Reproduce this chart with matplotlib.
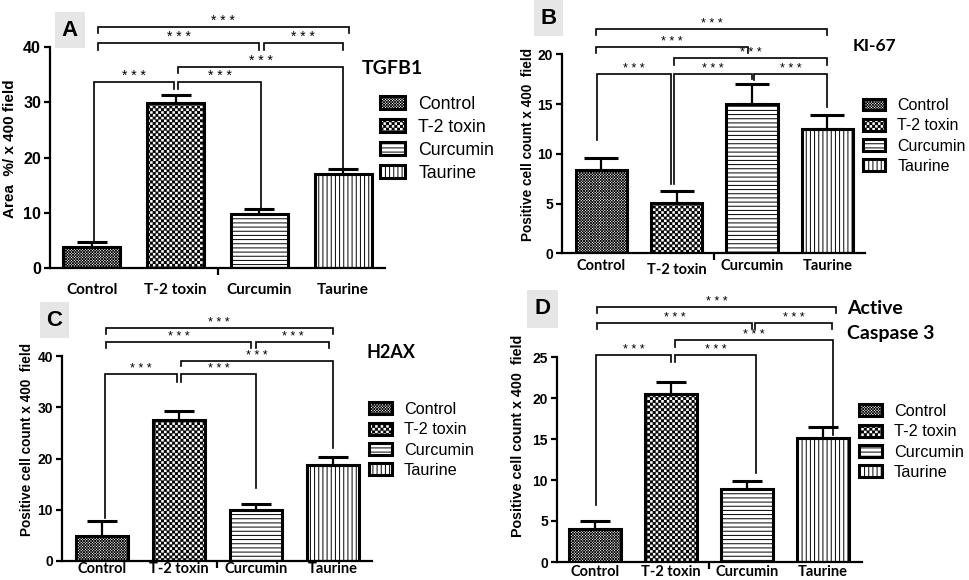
import numpy as np
import matplotlib
matplotlib.use("Agg")
import matplotlib.pyplot as plt
import matplotlib.hatch as mhatch
from matplotlib.path import Path
from matplotlib.patches import Rectangle
from matplotlib.transforms import ScaledTranslation

# ---------------- data ----------------
groups = ["Control", "T-2 toxin", "Curcumin", "Taurine"]

tgfb1_mean = [3.9, 29.9, 9.8, 17.0]
tgfb1_sem = [0.8, 1.4, 0.9, 1.0]
ki67_mean = [8.4, 5.1, 15.0, 12.5]
ki67_sem = [1.2, 1.2, 2.0, 1.4]
h2ax_mean = [4.9, 27.5, 9.9, 18.7]
h2ax_sem = [2.9, 1.8, 1.3, 1.5]
casp3_mean = [4.0, 20.5, 8.9, 15.1]
casp3_sem = [1.0, 1.5, 1.0, 1.4]

yticks_a = [0, 10, 20, 30, 40]
yticks_b = [0, 5, 10, 15, 20]
yticks_c = [0, 10, 20, 30, 40]
yticks_d = [0, 5, 10, 15, 20, 25]

comparisons = [(0, 1), (1, 2), (1, 3), (0, 2), (2, 3), (0, 3)]
sig_label = "* * *"

# ---------------- custom checkerboard hatch (uses '*') ----------------
HATCH_LW = 0.7
plt.rcParams["hatch.linewidth"] = HATCH_LW
plt.rcParams["font.family"] = ["Liberation Sans", "DejaVu Sans"]


class Checker(mhatch.HatchPatternBase):
    def __init__(self, hatch, density):
        n = int(hatch.count("*") * density)
        if n % 2:
            n += 1
        self.n = n
        self.num_vertices = (n * n // 2) * 5 if n else 0

    def set_vertices_and_codes(self, vertices, codes):
        n = self.n
        s = 1.0 / n
        shrink = HATCH_LW * 100 / 72 / 2 / 100 * 0.8
        core = max(s - 2 * shrink, 0.0005)
        sq = np.array([[0, 0], [1, 0], [1, 1], [0, 1], [0, 0]], float) * core
        cds = [Path.MOVETO, Path.LINETO, Path.LINETO, Path.LINETO, Path.CLOSEPOLY]
        idx = 0
        for r in range(n):
            for c in range(n):
                if (r + c) % 2 == 0:
                    vertices[idx:idx + 5] = sq + [c * s + (s - core) / 2, r * s + (s - core) / 2]
                    codes[idx:idx + 5] = cds
                    idx += 5


mhatch._hatch_types = [t for t in mhatch._hatch_types if t is not mhatch.Stars] + [Checker]

HATCHES = ["************", "******", "----", "||||"]

W, H = 969, 580
fig = plt.figure(figsize=(W / 100, H / 100), dpi=100)


def fx(px):
    return px / W


def fy(py):
    return 1 - py / H


panels = [
    dict(mean=tgfb1_mean, sem=tgfb1_sem, yticks=yticks_a, ylim=40,
         rect=(50, 47, 385, 268.3), xlim=(-0.5, 3.5),
         ylabel="Area  %/ x 400 field", ylab_xy=(10, 149), ylab_fs=11,
         ytick_fs=11.5, xtick_fs=11, xpad=10.5,
         title=["TGFB1"], title_xy=[(362, 69)], title_fs=14,
         letter="A", box=(55, 12, 85, 48), letter_fs=16,
         legend_xy=(380, 96), legend_fs=12.8, star_fs=10, capsize=11,
         xoff=[0, 0, 0, 0],
         brackets={(0, 1): (0.842, 0.02, -0.02, ("b", 0), ("t", 7)),
                   (1, 2): (0.842, 0.03, 0.02, ("t", 7), ("b", 1.5)),
                   (1, 3): (0.91, 0.03, 0.0, ("t", 6), ("b", 0)),
                   (0, 2): (1.018, 0.07, 0.0, ("t", 7), ("t", 7)),
                   (2, 3): (1.018, 0.05, 0.0, ("t", 7), ("t", 7)),
                   (0, 3): (1.09, 0.07, 0.07, ("t", 6), ("t", 6))}),
    dict(mean=ki67_mean, sem=ki67_sem, yticks=yticks_b, ylim=20,
         rect=(562, 54.3, 865, 253.3), xlim=(-0.52, 3.5),
         ylabel="Positive cell count x 400  field", ylab_xy=(528, 144), ylab_fs=9.8,
         ytick_fs=10, xtick_fs=10.5, xpad=4,
         title=["KI-67"], title_xy=[(853, 46)], title_fs=12.5,
         letter="B", box=(534, 0, 563, 36), letter_fs=16,
         legend_xy=(863, 98), legend_fs=11.5, star_fs=9, capsize=12,
         xoff=[0, -4, 0, 0],
         brackets={(0, 1): (0.90, -0.06, -0.07, ("b", 18), ("b", 7)),
                   (1, 2): (0.90, -0.03, 0.0, ("b", 7), ("b", 5)),
                   (1, 3): (0.98, -0.03, 0.0, ("t", 7), ("t", 7)),
                   (0, 2): (1.035, -0.07, -0.05, ("t", 6), ("t", 6)),
                   (2, 3): (0.90, 0.03, 0.0, ("t", 6), ("b", 8)),
                   (0, 3): (1.126, -0.07, 0.0, ("t", 6), ("t", 6))}),
    dict(mean=h2ax_mean, sem=h2ax_sem, yticks=yticks_c, ylim=40,
         rect=(62, 356, 372, 561), xlim=(-0.52, 3.51),
         ylabel="Positive cell count x 400  field", ylab_xy=(27, 440), ylab_fs=9.8,
         ytick_fs=10, xtick_fs=10.5, xpad=0.5,
         title=["H2AX"], title_xy=[(367, 352)], title_fs=13,
         letter="C", box=(40, 302, 69, 338), letter_fs=16,
         legend_xy=(369, 402), legend_fs=11.7, star_fs=9, capsize=11,
         xoff=[0, 0, 0, 0],
         brackets={(0, 1): (0.912, 0.04, -0.02, ("b", 3), ("t", 8)),
                   (1, 2): (0.912, 0.03, 0.0, ("t", 8), ("b", 16)),
                   (1, 3): (0.976, 0.03, 0.0, ("t", 5), ("b", 9)),
                   (0, 2): (1.068, 0.05, -0.06, ("t", 6), ("t", 6)),
                   (2, 3): (1.068, 0.0, -0.05, ("t", 6), ("t", 6)),
                   (0, 3): (1.137, 0.05, 0.0, ("t", 6), ("t", 6))}),
    dict(mean=casp3_mean, sem=casp3_sem, yticks=yticks_d, ylim=25,
         rect=(557, 357, 862, 562), xlim=(-0.5, 3.51),
         ylabel="Positive cell count x 400  field", ylab_xy=(518, 436), ylab_fs=10.3,
         ytick_fs=10, xtick_fs=10.5, xpad=2,
         title=["Active", "Caspase 3"], title_xy=[(847, 308), (847, 334)], title_fs=14,
         letter="D", box=(527, 290, 558, 328), letter_fs=16,
         legend_xy=(859, 404), legend_fs=11.7, star_fs=9, capsize=11,
         xoff=[0, 0, 0, 0],
         brackets={(0, 1): (1.01, 0.01, 0.0, ("b", 16), ("t", 7)),
                   (1, 2): (1.01, 0.05, 0.12, ("t", 7), ("b", 8)),
                   (1, 3): (1.083, 0.05, 0.13, ("t", 7), ("b", -8)),
                   (0, 2): (1.166, 0.03, 0.07, ("t", 6), ("t", 6)),
                   (2, 3): (1.166, 0.10, 0.12, ("t", 6), ("t", 6)),
                   (0, 3): (1.244, 0.03, 0.17, ("t", 6), ("t", 6))}),
]

for p in panels:
    x0, y0, x1, y1 = p["rect"]
    ax = fig.add_axes([fx(x0), fy(y1), (x1 - x0) / W, (y1 - y0) / H])
    x = np.arange(len(groups))
    bars = ax.bar(x, p["mean"], width=0.68, color="white", edgecolor="black",
                  linewidth=2.2, zorder=2)
    for b, h in zip(bars.patches, HATCHES):
        b.set_hatch(h)
    ax.errorbar(x, p["mean"], yerr=[np.zeros(len(x)), p["sem"]], fmt="none",
                ecolor="black", elinewidth=1.6, capsize=p["capsize"], capthick=2.2,
                zorder=3)
    ax.set_xlim(*p["xlim"])
    ax.set_ylim(0, p["ylim"])
    ax.set_yticks(p["yticks"])
    ax.set_yticklabels([str(t) for t in p["yticks"]], fontsize=p["ytick_fs"],
                       fontweight="bold")
    ax.set_xticks(x)
    ax.set_xticklabels(groups, fontsize=p["xtick_fs"], fontweight="bold",
                       family=["Lato", "DejaVu Sans"])
    ax.set_xticks([1.5], minor=True)
    for side in ("top", "right"):
        ax.spines[side].set_visible(False)
    for side in ("left", "bottom"):
        ax.spines[side].set_linewidth(1.6)
    ax.tick_params(axis="y", which="major", length=4.5, width=1.6, pad=2)
    ax.tick_params(axis="x", which="major", length=0, pad=p["xpad"])
    ax.tick_params(axis="x", which="minor", length=5, width=1.6)
    for lab, off in zip(ax.get_xticklabels(), p["xoff"]):
        if off:
            lab.set_transform(lab.get_transform() +
                              ScaledTranslation(0, off / 100, fig.dpi_scale_trans))

    # px -> data (vertical)
    dpp = p["ylim"] / (y1 - y0)
    tops = np.array(p["mean"]) + np.array(p["sem"])
    for (i, j) in comparisons:
        lvl_f, dxi, dxj, legi, legj = p["brackets"][(i, j)]
        lvl = lvl_f * p["ylim"]
        ends = []
        for k, leg in ((i, legi), (j, legj)):
            if leg[0] == "t":
                ends.append(lvl - leg[1] * dpp)
            else:
                ends.append(tops[k] + leg[1] * dpp)
        xi, xj = x[i] + dxi, x[j] + dxj
        ax.plot([xi, xi, xj, xj], [ends[0], lvl, lvl, ends[1]], color="black",
                lw=1.2, clip_on=False, zorder=4, solid_joinstyle="miter")
        ax.text((xi + xj) / 2, lvl + 2 * dpp, sig_label, ha="center",
                va="baseline", fontsize=p["star_fs"], clip_on=False)

    ax.legend(bars.patches, groups, loc="upper left",
              bbox_to_anchor=(fx(p["legend_xy"][0]), fy(p["legend_xy"][1])),
              bbox_transform=fig.transFigure, frameon=False, borderpad=0,
              borderaxespad=0, handlelength=1.4, handleheight=0.75,
              handletextpad=0.75, labelspacing=0.33,
              prop=dict(family="Liberation Sans", size=p["legend_fs"]))

    fig.text(fx(p["ylab_xy"][0]), fy(p["ylab_xy"][1]), p["ylabel"], rotation=90,
             ha="center", va="center", fontsize=p["ylab_fs"], fontweight="bold")
    for t, (tx, ty) in zip(p["title"], p["title_xy"]):
        fig.text(fx(tx), fy(ty), t, ha="left", va="center", fontsize=p["title_fs"],
                 fontweight="bold", family=["Lato", "DejaVu Sans"])
    bx0, by0, bx1, by1 = p["box"]
    fig.add_artist(Rectangle((fx(bx0), fy(by1)), (bx1 - bx0) / W, (by1 - by0) / H,
                             transform=fig.transFigure, facecolor="#e6e6e6",
                             edgecolor="none"))
    fig.text(fx((bx0 + bx1) / 2), fy((by0 + by1) / 2), p["letter"], ha="center",
             va="center", fontsize=p["letter_fs"], fontweight="bold")

fig.savefig("out.png", dpi=100)
